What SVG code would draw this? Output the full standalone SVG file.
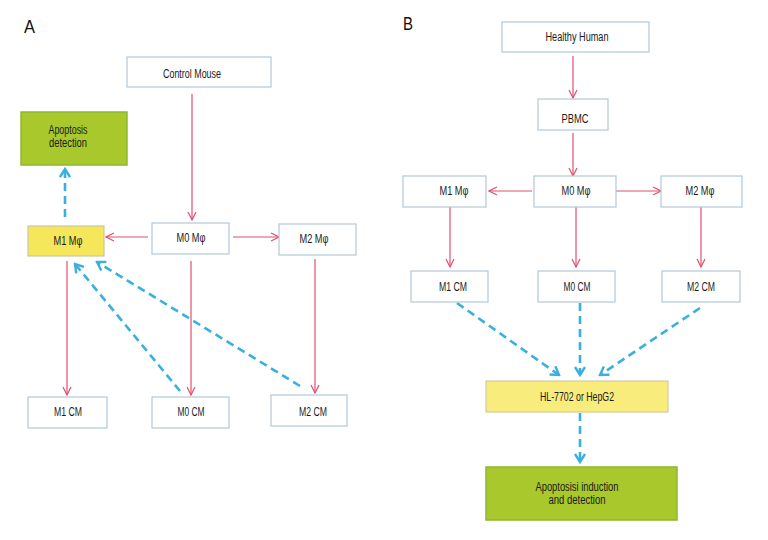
<svg xmlns="http://www.w3.org/2000/svg" width="768" height="540" viewBox="0 0 768 540">
<defs>
<style>
text{font-family:"Liberation Sans Narrow","Liberation Sans",Arial,sans-serif;font-size:12px;fill:#1a1a1a;text-anchor:middle}
.lbl{font-size:19px;text-anchor:start;fill:#111}
.box{fill:#fff;stroke:#b3c9d8;stroke-width:1.2}
.yel{fill:#f5e65a;stroke:#c8c8a0;stroke-width:1.2}
.yel2{fill:#f8ec7c;stroke:#d2cca0;stroke-width:1.2}
.grn{fill:#a8c82c;stroke:#8fb830;stroke-width:1.5}
.red{stroke:#e0506e;stroke-width:1.2;fill:none;marker-end:url(#ar)}
.blu{stroke:#38b0e0;stroke-width:2.6;fill:none;stroke-dasharray:8,5;marker-end:url(#ab)}
</style>
<marker id="ar" markerUnits="userSpaceOnUse" viewBox="0 0 10 10" refX="9" refY="5" markerWidth="10" markerHeight="10" orient="auto"><path d="M1,1 L9,5 L1,9" fill="none" stroke="#e0506e" stroke-width="1.2"/></marker>
<marker id="ab" markerUnits="userSpaceOnUse" viewBox="0 0 12 12" refX="10" refY="6" markerWidth="12" markerHeight="12" orient="auto"><path d="M2,1 L10,6 L2,11" fill="none" stroke="#38b0e0" stroke-width="2.4"/></marker>
</defs>
<rect width="768" height="540" fill="#fff"/>
<text class="lbl" x="24" y="33" textLength="11" lengthAdjust="spacingAndGlyphs">A</text>
<text class="lbl" x="403" y="30" textLength="10" lengthAdjust="spacingAndGlyphs">B</text>

<g id="connectors">
<line class="red" x1="192" y1="94" x2="192" y2="220"/>
<line class="red" x1="148" y1="237" x2="106" y2="237"/>
<line class="red" x1="233" y1="237" x2="279" y2="237"/>
<line class="red" x1="67" y1="261" x2="67" y2="395"/>
<line class="red" x1="191" y1="261" x2="191" y2="395"/>
<line class="red" x1="315" y1="259" x2="315" y2="393"/>
<line class="blu" x1="65" y1="217" x2="65" y2="169"/>
<line class="blu" x1="180" y1="391" x2="75" y2="264"/>
<line class="blu" x1="300" y1="386" x2="97" y2="262"/>

<line class="red" x1="573" y1="56" x2="573" y2="98"/>
<line class="red" x1="573" y1="133" x2="573" y2="176"/>
<line class="red" x1="532" y1="191" x2="489" y2="191"/>
<line class="red" x1="616" y1="191" x2="661" y2="191"/>
<line class="red" x1="450" y1="207" x2="450" y2="267"/>
<line class="red" x1="576" y1="207" x2="576" y2="267"/>
<line class="red" x1="701" y1="207" x2="701" y2="267"/>
<line class="blu" x1="457" y1="303" x2="559" y2="375"/>
<line class="blu" x1="580" y1="303" x2="580" y2="375"/>
<line class="blu" x1="700" y1="308" x2="600" y2="375"/>
<line class="blu" x1="580" y1="413" x2="580" y2="462"/>
</g>

<g id="a-control-mouse"><rect class="box" x="127" y="57" width="144" height="30"/><text x="192" y="78" textLength="58" lengthAdjust="spacingAndGlyphs">Control Mouse</text></g>
<g id="a-apoptosis"><rect class="grn" x="21" y="112" width="106" height="53"/><text x="68" y="134" textLength="39" lengthAdjust="spacingAndGlyphs">Apoptosis</text><text x="68" y="147" textLength="38" lengthAdjust="spacingAndGlyphs">detection</text></g>
<g id="a-m1"><rect class="yel" x="28" y="226" width="76" height="30"/><text x="68" y="245" textLength="29" lengthAdjust="spacingAndGlyphs">M1 Mφ</text></g>
<g id="a-m0"><rect class="box" x="152" y="223" width="77" height="31"/><text x="191" y="242" textLength="29" lengthAdjust="spacingAndGlyphs">M0 Mφ</text></g>
<g id="a-m2"><rect class="box" x="279" y="224" width="77" height="31"/><text x="314" y="243" textLength="29" lengthAdjust="spacingAndGlyphs">M2 Mφ</text></g>
<g id="a-m1cm"><rect class="box" x="28" y="397" width="79" height="31"/><text x="68" y="416" textLength="28" lengthAdjust="spacingAndGlyphs">M1 CM</text></g>
<g id="a-m0cm"><rect class="box" x="152" y="397" width="77" height="31"/><text x="191" y="416" textLength="27" lengthAdjust="spacingAndGlyphs">M0 CM</text></g>
<g id="a-m2cm"><rect class="box" x="271" y="395" width="76" height="31"/><text x="313" y="416" textLength="28" lengthAdjust="spacingAndGlyphs">M2 CM</text></g>

<g id="b-healthy"><rect class="box" x="502" y="22" width="147" height="30"/><text x="577" y="41" textLength="63" lengthAdjust="spacingAndGlyphs">Healthy Human</text></g>
<g id="b-pbmc"><rect class="box" x="538" y="99" width="70" height="31"/><text x="575" y="123" textLength="27" lengthAdjust="spacingAndGlyphs">PBMC</text></g>
<g id="b-m1"><rect class="box" x="403" y="176" width="83" height="31"/><text x="454" y="195" textLength="29" lengthAdjust="spacingAndGlyphs">M1 Mφ</text></g>
<g id="b-m0"><rect class="box" x="534" y="176" width="82" height="31"/><text x="576" y="195" textLength="29" lengthAdjust="spacingAndGlyphs">M0 Mφ</text></g>
<g id="b-m2"><rect class="box" x="661" y="176" width="81" height="31"/><text x="700" y="195" textLength="29" lengthAdjust="spacingAndGlyphs">M2 Mφ</text></g>
<g id="b-m1cm"><rect class="box" x="411" y="271" width="77" height="31"/><text x="453" y="291" textLength="28" lengthAdjust="spacingAndGlyphs">M1 CM</text></g>
<g id="b-m0cm"><rect class="box" x="538" y="271" width="77" height="31"/><text x="577" y="291" textLength="27" lengthAdjust="spacingAndGlyphs">M0 CM</text></g>
<g id="b-m2cm"><rect class="box" x="662" y="271" width="78" height="31"/><text x="701" y="291" textLength="28" lengthAdjust="spacingAndGlyphs">M2 CM</text></g>
<g id="b-hl"><rect class="yel2" x="486" y="381" width="182" height="31"/><text x="577" y="401" textLength="74" lengthAdjust="spacingAndGlyphs">HL-7702 or HepG2</text></g>
<g id="b-apoptosis"><rect class="grn" x="486" y="467" width="191" height="53"/><text x="577" y="491" textLength="83" lengthAdjust="spacingAndGlyphs">Apoptosisi induction</text><text x="577" y="504" textLength="57" lengthAdjust="spacingAndGlyphs">and detection</text></g>
</svg>
